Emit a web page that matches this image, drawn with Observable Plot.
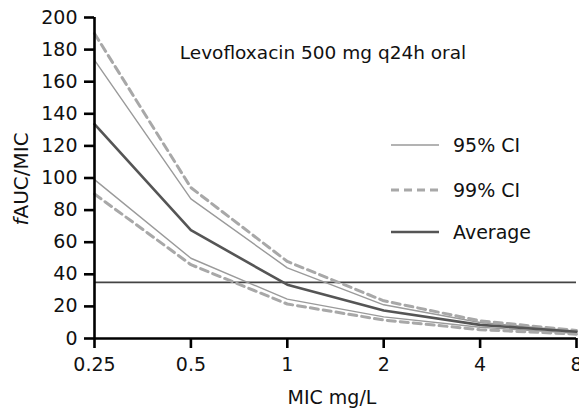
<!DOCTYPE html>
<html><head><meta charset="utf-8">
<script src="https://cdn.jsdelivr.net/npm/d3@7"></script>
<script src="https://cdn.jsdelivr.net/npm/@observablehq/plot@0.6"></script>
<style>
body{margin:0;background:#fff;}
</style>
</head><body><div id="chart"></div>
<script>
const mic = [0.25, 0.5, 1, 2, 4, 8];
const micLabels = ["0.25", "0.5", "1", "2", "4", "8"];
const upper99 = [190, 94, 48, 23.5, 11, 5];
const upper95 = [173.5, 87, 44, 21, 10, 4.5];
const average = [133.5, 67.5, 33.5, 17.5, 8.5, 4.2];
const lower95 = [99, 50, 24.5, 13.5, 7, 3.3];
const lower99 = [90, 46, 21.5, 11.5, 5.5, 2.7];
const threshold = [35];
const yTicks = [0, 20, 40, 60, 80, 100, 120, 140, 160, 180, 200];
const title = "Levofloxacin 500 mg q24h oral";
const legendLabels = ["95% CI", "99% CI", "Average"];

const toRows = (vals, name) => vals.map((v, i) => ({mic: mic[i], value: v, series: name}));
const rows95 = [...toRows(upper95, "u95"), ...toRows(lower95, "l95")];
const rows99 = [...toRows(upper99, "u99"), ...toRows(lower99, "l99")];
const rowsAvg = toRows(average, "avg");

const styles = [
  {stroke: "#9a9a9a", strokeWidth: 1.4, dash: null},
  {stroke: "#a8a8a8", strokeWidth: 3, dash: "8,5"},
  {stroke: "#555", strokeWidth: 2.6, dash: null}
];

const chart = Plot.plot({
  width: 579, height: 412,
  marginLeft: 94, marginRight: 3, marginTop: 17, marginBottom: 74,
  style: {fontFamily: "DejaVu Sans", fontSize: "19px", color: "#111", background: "#fff", overflow: "visible"},
  x: {type: "log", base: 2, domain: [0.25, 8], ticks: mic, tickFormat: d => micLabels[mic.indexOf(d)], tickSize: 0, tickPadding: 19, label: null},
  y: {domain: [0, 200], ticks: yTicks, tickSize: 0, tickPadding: 17, label: null},
  marks: [
    Plot.ruleY(threshold, {stroke: "#444", strokeWidth: 1.8}),
    Plot.line(rows95, {x: "mic", y: "value", z: "series", stroke: styles[0].stroke, strokeWidth: styles[0].strokeWidth}),
    Plot.line(rows99, {x: "mic", y: "value", z: "series", stroke: styles[1].stroke, strokeWidth: styles[1].strokeWidth, strokeDasharray: styles[1].dash}),
    Plot.line(rowsAvg, {x: "mic", y: "value", stroke: styles[2].stroke, strokeWidth: styles[2].strokeWidth}),
    Plot.ruleX(mic, {y1: 0, y2: 0, insetBottom: -10, stroke: "#000", strokeWidth: 2.6}),
    Plot.ruleY(yTicks, {x1: 0.25, x2: 0.25, insetLeft: -10, stroke: "#000", strokeWidth: 2.6}),
    Plot.ruleY([0], {stroke: "#000", strokeWidth: 2.6}),
    Plot.ruleX([0.25], {y1: 0, y2: 200, stroke: "#000", strokeWidth: 2.6})
  ]
});
document.getElementById("chart").appendChild(chart);

const svg = d3.select(chart);
svg.append("text").attr("x", 323).attr("y", 59).attr("text-anchor", "middle")
  .attr("font-size", 18.5).attr("fill", "#111").text(title);
const yl = svg.append("text").attr("transform", "translate(28,179) rotate(-90)")
  .attr("text-anchor", "middle").attr("font-size", 20).attr("fill", "#111");
yl.append("tspan").attr("font-style", "italic").text("f");
yl.append("tspan").text("AUC/MIC");
svg.append("text").attr("x", 332).attr("y", 404).attr("text-anchor", "middle")
  .attr("font-size", 19).attr("fill", "#111").text("MIC mg/L");
const legY = [145, 190, 232];
legendLabels.forEach((lab, i) => {
  const s = styles[i];
  svg.append("line").attr("x1", 391).attr("x2", 439).attr("y1", legY[i]).attr("y2", legY[i])
    .attr("stroke", s.stroke).attr("stroke-width", s.strokeWidth)
    .attr("stroke-dasharray", s.dash || null);
  svg.append("text").attr("x", 453).attr("y", legY[i]).attr("dy", "0.36em")
    .attr("text-anchor", "start")
    .attr("font-size", 19).attr("fill", "#111").text(lab);
});
</script>
</body></html>
